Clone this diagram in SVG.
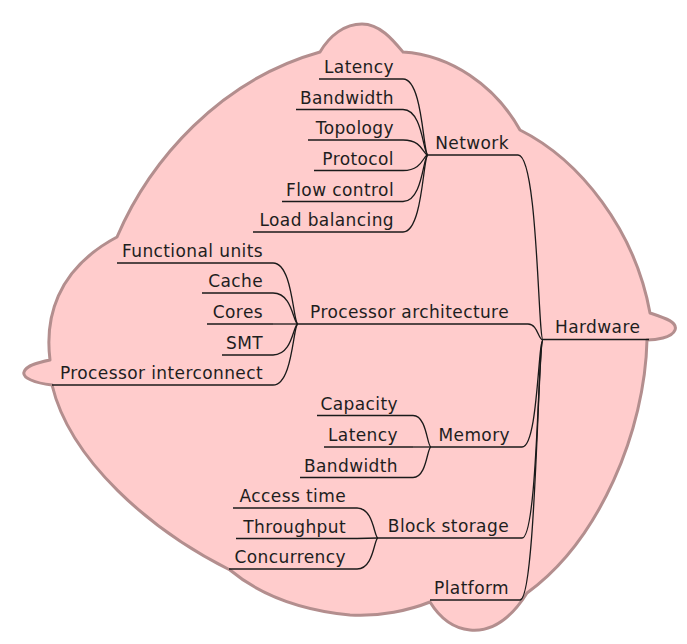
<svg xmlns="http://www.w3.org/2000/svg" width="687" height="644" viewBox="0 0 687 644">
<style>
.cloud{fill:#ffcccc;stroke:#b38e8e;stroke-width:3;stroke-linejoin:round}
text{font-family:"DejaVu Sans","Liberation Sans",sans-serif;font-size:17px;fill:#1e1e1e;letter-spacing:0.4px}
.r{text-anchor:end}
.u{stroke:#1a1a1a;stroke-width:1.3;fill:none}
.c path{stroke:#1a1a1a;stroke-width:1.3;fill:none}
</style>
<path class="cloud" d="M 320,52 C 330,35 345,24 362,24 C 380,24 393,40 403,52 C 450,55 495,85 520,130 C 580,160 635,230 650,313 C 665,318 678,322 675,330 C 672,338 655,340 647,340 C 645,430 600,540 527,593 C 510,620 490,632 470,630 C 450,628 438,615 430,602 C 410,610 380,617 350,615 C 300,610 260,595 230,570 C 150,530 70,460 52,385 C 35,383 22,378 24,372 C 26,365 40,362 50,360 C 45,320 55,270 117,237 C 150,160 220,80 320,52 Z"/>
<g class="c" id="connectors">
<path d="M 403,79 C 423,79 423,155 428,155"/>
<path d="M 403,109.5 C 423,109.5 423,155 428,155"/>
<path d="M 403,140 C 423,140 423,155 428,155"/>
<path d="M 403,170.5 C 423,170.5 423,155 428,155"/>
<path d="M 403,201.5 C 423,201.5 423,155 428,155"/>
<path d="M 403,232 C 423,232 423,155 428,155"/>
<path d="M 273,263 C 293,263 293,324 298,324"/>
<path d="M 273,293 C 293,293 293,324 298,324"/>
<path d="M 273,324 L 298,324"/>
<path d="M 273,355 C 293,355 293,324 298,324"/>
<path d="M 273,385 C 293,385 293,324 298,324"/>
<path d="M 413,415.5 C 427,415.5 427,447 431,447"/>
<path d="M 413,447 L 431,447"/>
<path d="M 413,477.5 C 427,477.5 427,447 431,447"/>
<path d="M 357,508 C 374,508 374,538 378,538"/>
<path d="M 357,538.5 L 378,538"/>
<path d="M 357,569 C 374,569 374,538 378,538"/>
<path d="M 518,155 C 538,155 538,340 543,340"/>
<path d="M 528,324 C 538,324 538,340 543,340"/>
<path d="M 522,447 C 538,447 538,340 543,340"/>
<path d="M 522,538 C 538,538 538,340 543,340"/>
<path d="M 520,600 C 536,600 538,340 543,340"/>
</g>
<g id="hardware"><text x="555" y="333">Hardware</text><path class="u" d="M 543,339.5 H 649"/></g>
<g id="network"><text class="r" x="509" y="149">Network</text><path class="u" d="M 428,155 H 518"/></g>
<g id="net-latency"><text class="r" x="394" y="73">Latency</text><path class="u" d="M 319,79 H 403"/></g>
<g id="net-bandwidth"><text class="r" x="394" y="103.5">Bandwidth</text><path class="u" d="M 296,109.5 H 403"/></g>
<g id="net-topology"><text class="r" x="394" y="134">Topology</text><path class="u" d="M 308,140 H 403"/></g>
<g id="net-protocol"><text class="r" x="394" y="164.5">Protocol</text><path class="u" d="M 314,170.5 H 403"/></g>
<g id="net-flow"><text class="r" x="394" y="195.5">Flow control</text><path class="u" d="M 282,201.5 H 403"/></g>
<g id="net-load"><text class="r" x="394" y="226">Load balancing</text><path class="u" d="M 253,232 H 403"/></g>
<g id="processor"><text class="r" x="509" y="318">Processor architecture</text><path class="u" d="M 298,324 H 528"/></g>
<g id="proc-fu"><text class="r" x="263" y="257">Functional units</text><path class="u" d="M 117,263 H 273"/></g>
<g id="proc-cache"><text class="r" x="263" y="287">Cache</text><path class="u" d="M 202,293 H 273"/></g>
<g id="proc-cores"><text class="r" x="263" y="318">Cores</text><path class="u" d="M 207,324 H 273"/></g>
<g id="proc-smt"><text class="r" x="263" y="349">SMT</text><path class="u" d="M 222,355 H 273"/></g>
<g id="proc-ic"><text class="r" x="263" y="379">Processor interconnect</text><path class="u" d="M 52,385 H 273"/></g>
<g id="memory"><text class="r" x="510" y="441">Memory</text><path class="u" d="M 431,447 H 522"/></g>
<g id="mem-capacity"><text class="r" x="398" y="409.5">Capacity</text><path class="u" d="M 317,415.5 H 413"/></g>
<g id="mem-latency"><text class="r" x="398" y="441">Latency</text><path class="u" d="M 324,447 H 413"/></g>
<g id="mem-bandwidth"><text class="r" x="398" y="471.5">Bandwidth</text><path class="u" d="M 300,477.5 H 413"/></g>
<g id="block"><text class="r" x="509" y="532">Block storage</text><path class="u" d="M 378,538 H 522"/></g>
<g id="blk-access"><text class="r" x="346" y="502">Access time</text><path class="u" d="M 233,508 H 357"/></g>
<g id="blk-throughput"><text class="r" x="346" y="532.5">Throughput</text><path class="u" d="M 236,538.5 H 357"/></g>
<g id="blk-concurrency"><text class="r" x="346" y="563">Concurrency</text><path class="u" d="M 229,569 H 357"/></g>
<g id="platform"><text class="r" x="509" y="594">Platform</text><path class="u" d="M 430,600 H 520"/></g>
</svg>
